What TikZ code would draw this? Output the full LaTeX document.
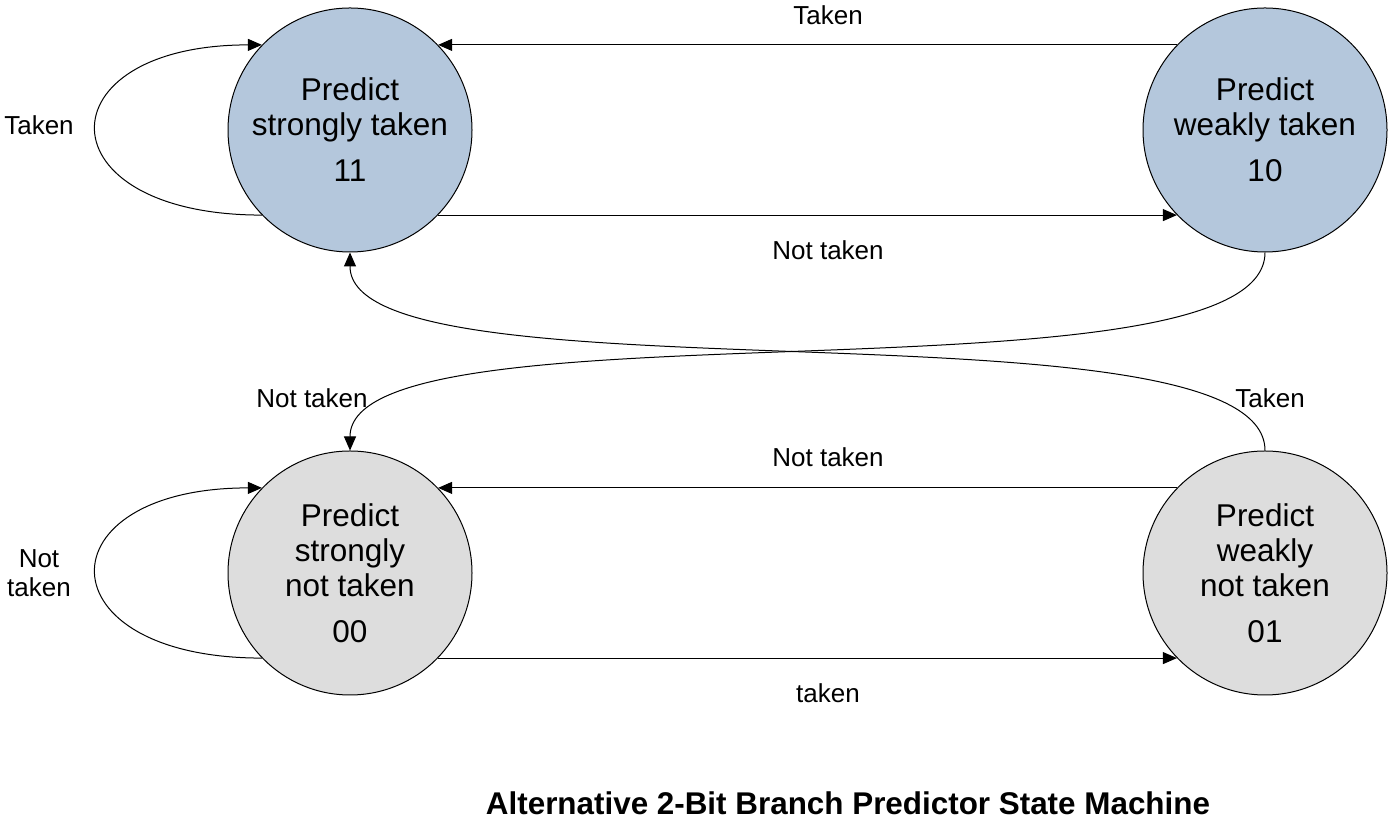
\documentclass[tikz,border=0pt]{standalone}
\usepackage{fontspec}
\setmainfont{Liberation Sans}
\usetikzlibrary{arrows.meta}

\definecolor{takenblue}{HTML}{B4C7DC}
\definecolor{nottakengray}{HTML}{DDDDDD}

\tikzset{
  statenode/.style={circle,draw,line width=1pt,minimum size=244pt,inner sep=0pt,
    align=center,font=\fontsize{31.5}{35}\selectfont},
  trans/.style={line width=1pt,-{Triangle[length=14pt,width=12pt]}},
  lbl/.style={inner sep=0pt,align=center,font=\fontsize{26}{29}\selectfont}
}

\begin{document}
\begin{tikzpicture}[x=1pt,y=1pt]
  \useasboundingbox (0,0) rectangle (1390,821);

  % states
  \node[statenode,fill=takenblue] (st11) at (350,691) {Predict\\strongly taken\\[11pt]11};
  \node[statenode,fill=takenblue] (st10) at (1265,691) {Predict\\weakly taken\\[11pt]10};
  \node[statenode,fill=nottakengray] (st00) at (350,248) {Predict\\strongly\\not taken\\[11pt]00};
  \node[statenode,fill=nottakengray] (st01) at (1265,248) {Predict\\weakly\\not taken\\[11pt]01};

  % transitions
  \draw[trans] (st10.136) -- (st11.44);
  \draw[trans] (st11.-44) -- (st10.-136);
  \draw[trans] (st11.-136) .. controls +(-221,0) and +(-221,0) .. (st11.136);
  \draw[trans] (st10.south) .. controls +(0,-158) and +(0,155) .. (st00.north);
  \draw[trans] (st01.north) .. controls +(0,158) and +(0,-155) .. (st11.south);
  \draw[trans] (st01.136) -- (st00.44);
  \draw[trans] (st00.-44) -- (st01.-136);
  \draw[trans] (st00.-136) .. controls +(-221,0) and +(-221,0) .. (st00.136);

  % labels
  \node[lbl] (lTakenTop) at (828,806) {Taken};
  \node[lbl] (lNotTop) at (828,571) {Not taken};
  \node[lbl] (lTakenLoop) at (39,696) {Taken};
  \node[lbl] (lNotCross) at (312,423) {Not taken};
  \node[lbl] (lTakenCross) at (1270,423) {Taken};
  \node[lbl] (lNotMid) at (828,364) {Not taken};
  \node[lbl] (lNotLoop) at (39,248) {Not\\taken};
  \node[lbl] (lTakenBot) at (828,128) {taken};

  \node[inner sep=0pt,font=\fontsize{31.4}{35}\selectfont\bfseries] (title) at (848,18)
    {Alternative 2-Bit Branch Predictor State Machine};
\end{tikzpicture}
\end{document}
